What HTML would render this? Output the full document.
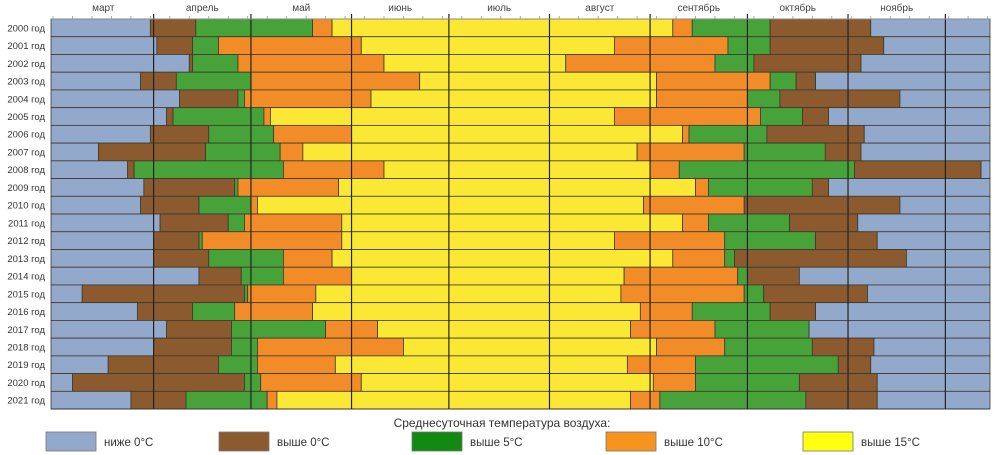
<!DOCTYPE html>
<html><head><meta charset="utf-8">
<style>
html,body{margin:0;padding:0;background:#fff;}
svg{display:block;font-family:"Liberation Sans",sans-serif;}
</style></head>
<body>
<svg id="chart" width="994" height="455" viewBox="0 0 994 455" xmlns="http://www.w3.org/2000/svg"></svg>
<script>
// Days counted from 1 March (day 0). Transitions: blue->brown, brown->green, green->orange, orange->yellow, yellow->orange, orange->green, green->brown, brown->blue
const years = ["2000","2001","2002","2003","2004","2005","2006","2007","2008","2009","2010","2011","2012","2013","2014","2015","2016","2017","2018","2019","2020","2021"];
const above0Start = [30,32,42,27,39,35,30,14,23,28,27,33,31,31,45,9,26,35,31,17,6,24];
const above5Start = [44,43,43,38,57,37,48,47,25,56,45,54,45,48,58,59,43,55,55,51,59,41];
const above10Start = [80,51,57,61,59,65,68,70,71,57,61,59,46,71,71,60,56,84,63,63,64,66];
const above15Start = [86,95,102,113,98,67,92,77,102,88,63,89,89,86,92,81,80,100,108,87,95,69];
const above15End = [191,173,158,186,186,173,194,180,184,198,182,194,173,191,176,175,181,178,186,177,185,178];
const above10End = [197,208,204,221,214,218,196,213,193,202,213,202,207,207,211,213,197,204,207,198,198,187];
const above5End = [221,221,216,229,224,231,220,238,247,234,213,227,235,210,214,219,221,233,234,242,230,232];
const above0End = [252,256,249,235,261,239,250,249,286,239,261,248,254,263,230,251,235,233,253,252,254,254];
const months = ["март","апрель","май","июнь","июль","август","сентябрь","октябрь","ноябрь"];
const monthStarts = [0,31,61,92,122,153,184,214,245,275];

const svg = document.getElementById('chart');
const NS = 'http://www.w3.org/2000/svg';
const X0 = 53, K = 3.245, LEFT = 51, RIGHT = 990, TOP = 19, ROWH = 17.73;
const x = d => Math.max(LEFT, Math.min(RIGHT, X0 + d * K));
const y = i => TOP + i * ROWH;
const DMIN = (LEFT - X0) / K, DMAX = (RIGHT - X0) / K;
const colors = {blue:"#93a9cc", brown:"#8b5a2f", green:"#47a23a", orange:"#f28c28", yellow:"#fbe834"};

function el(tag, attrs, parent){
  const e = document.createElementNS(NS, tag);
  for (const k in attrs) e.setAttribute(k, attrs[k]);
  (parent || svg).appendChild(e);
  return e;
}

const plot = el('g', {});



years.forEach((yr, i) => {
  const bounds = [DMIN, above0Start[i], above5Start[i], above10Start[i], above15Start[i], above15End[i], above10End[i], above5End[i], above0End[i], DMAX];
  const seq = ['blue','brown','green','orange','yellow','orange','green','brown','blue'];
  const row = el('g', {}, plot);
  
  
  seq.forEach((c, j) => {
    const x1 = x(bounds[j]), x2 = x(bounds[j+1]);
    if (x2 - x1 <= 0) return;
    const r = el('rect', {x:x1, y:y(i), width:x2-x1, height:ROWH, fill:colors[c], stroke:'#3a3a2a', 'stroke-width':0.8}, row);
    
    
  });
  const t = el('text', {x:45, y:y(i)+ROWH/2+3.5, 'text-anchor':'end', 'font-size':9.5, fill:'#333'});
  t.textContent = yr + ' год';
  
  
});

// month grid lines
monthStarts.forEach((d, j) => {
  if (j === 0) return;
  const ln = el('line', {x1:x(d), x2:x(d), y1:14, y2:y(years.length), stroke:'#222', 'stroke-width':1.2});
  
  
});
// top axis line and ticks
const ax = el('line', {x1:LEFT, x2:RIGHT, y1:TOP, y2:TOP, stroke:'#888', 'stroke-width':1});


for (let d = 0; d <= DMAX; d += 6) {
  const tk = el('line', {x1:x(d), x2:x(d), y1:TOP-3, y2:TOP, stroke:'#999', 'stroke-width':0.8});
  
  
}
months.forEach((m, j) => {
  const t = el('text', {x:(x(monthStarts[j]) + x(monthStarts[j+1]))/2, y:11, 'text-anchor':'middle', 'font-size':10, fill:'#444'});
  t.textContent = m;
  
  
});
const bl = el('line', {x1:LEFT, x2:RIGHT, y1:y(years.length), y2:y(years.length), stroke:'#333', 'stroke-width':1});



// legend
const lt = el('text', {x:502, y:427, 'text-anchor':'middle', 'font-size':12, fill:'#333'});
lt.textContent = 'Среднесуточная температура воздуха:';


const legendLabels = ['ниже 0°С','выше 0°С','выше 5°С','выше 10°С','выше 15°С'];
const legendColors = ['#93a9cc','#8b5a2f','#128a12','#f7941d','#ffff10'];
const legendX = [46, 219, 412, 606, 803];
legendLabels.forEach((lab, j) => {
  const g = el('g', {});
  
  
  el('rect', {x:legendX[j], y:432, width:50, height:19, fill:legendColors[j], stroke:'#777', 'stroke-width':0.8}, g);
  const t = el('text', {x:legendX[j]+58, y:446, 'font-size':11.5, fill:'#333'}, g);
  t.textContent = lab;
});
</script>
</body></html>
